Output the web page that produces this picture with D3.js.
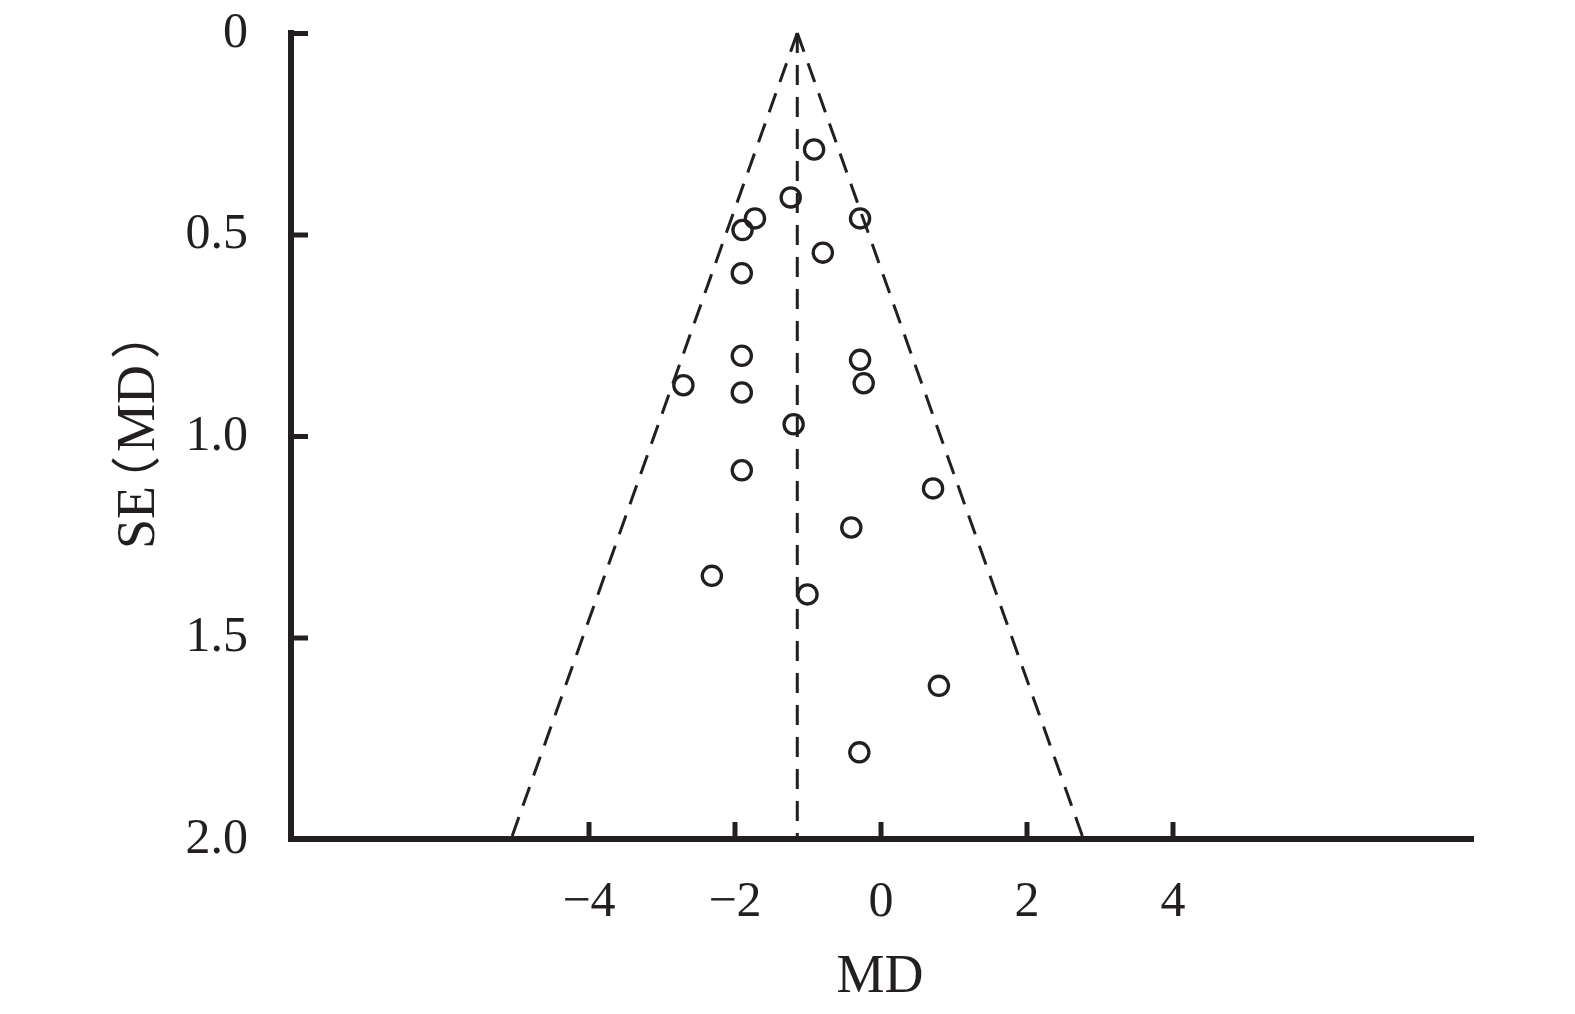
<!DOCTYPE html>
<html>
<head>
<meta charset="utf-8">
<script src="https://cdn.jsdelivr.net/npm/d3@7"></script>
<style>
  html, body { margin: 0; padding: 0; background: #ffffff; }
  svg { display: block; }
</style>
</head>
<body>
<svg id="chart" width="1575" height="1014"></svg>
<script>
// ---- data ----
const studyMD = [-0.91, -1.23, -1.72, -1.89, -0.28, -0.79, -1.90, -1.90, -2.70, -1.90,
                 -0.28, -0.23, -1.19, -1.90, 0.72, -0.40, -2.31, -1.00, 0.80, -0.29];
const studySE = [0.289, 0.408, 0.460, 0.489, 0.460, 0.545, 0.596, 0.801, 0.874, 0.892,
                 0.811, 0.869, 0.971, 1.085, 1.130, 1.227, 1.347, 1.393, 1.620, 1.785];
const pooledMD = -1.14;
const zCrit = 1.96;
const xTickValues = [-4, -2, 0, 2, 4];
const xTickLabels = ["\u22124", "\u22122", "0", "2", "4"];
const yTickValues = [0, 0.5, 1.0, 1.5, 2.0];
const yTickLabels = ["0", "0.5", "1.0", "1.5", "2.0"];
const xTitle = "MD";
const yTitleParts = ["SE", "\uFF08", "MD", "\uFF09"];

// ---- layout ----
const ink = "#231f20";
const serif = "'Liberation Serif', 'Times New Roman', 'Noto Sans CJK SC', serif";
const axisLeftX = 291, axisRightX = 1474;
const svg = d3.select("#chart");

const x = d3.scaleLinear().domain([-4, 4]).range([588.5, 1172.5]);
const y = d3.scaleLinear().domain([0, 2]).range([33, 839]);

// funnel lines
const seMax = 2;
const funnel = [
  [[pooledMD, 0], [pooledMD - zCrit * seMax, seMax]],
  [[pooledMD, 0], [pooledMD + zCrit * seMax, seMax]],
  [[pooledMD, 0], [pooledMD, seMax]]
];
const line = d3.line().x(d => x(d[0])).y(d => y(d[1]));
svg.append("g").selectAll("path").data(funnel).join("path")
  .attr("d", line)
  .attr("fill", "none")
  .attr("stroke", ink)
  .attr("stroke-width", 3)
  .attr("stroke-dasharray", "20,12");

// points
svg.append("g").selectAll("circle").data(studyMD.map((m, i) => [m, studySE[i]])).join("circle")
  .attr("cx", d => x(d[0]))
  .attr("cy", d => y(d[1]))
  .attr("r", 9.6)
  .attr("fill", "none")
  .attr("stroke", ink)
  .attr("stroke-width", 3.3);

// y axis
const yAxis = d3.axisLeft(y)
  .tickValues(yTickValues)
  .tickSize(-17)
  .tickSizeOuter(0)
  .tickPadding(43)
  .tickFormat((d, i) => yTickLabels[i]);
const gy = svg.append("g").attr("transform", `translate(${axisLeftX},0)`).call(yAxis);
gy.select(".domain").remove();
gy.selectAll(".tick line").attr("stroke", ink).attr("stroke-width", 5);
gy.selectAll(".tick text")
  .attr("font-family", serif).attr("font-size", 50).attr("fill", ink)
  .attr("dy", 0).attr("y", 13);

// x axis
const xAxis = d3.axisBottom(x)
  .tickValues(xTickValues)
  .tickSize(-17)
  .tickSizeOuter(0)
  .tickFormat((d, i) => xTickLabels[i]);
const gx = svg.append("g").attr("transform", `translate(0,${y(2)})`).call(xAxis);
gx.select(".domain").remove();
gx.selectAll(".tick line").attr("stroke", ink).attr("stroke-width", 5);
gx.selectAll(".tick text")
  .attr("font-family", serif).attr("font-size", 50).attr("fill", ink)
  .attr("dy", 0).attr("y", 77);

// axis lines
svg.append("line")
  .attr("x1", axisLeftX).attr("x2", axisLeftX)
  .attr("y1", y(0) - 3).attr("y2", y(2) + 3)
  .attr("stroke", ink).attr("stroke-width", 6);
svg.append("line")
  .attr("x1", axisLeftX - 3).attr("x2", axisRightX)
  .attr("y1", y(2)).attr("y2", y(2))
  .attr("stroke", ink).attr("stroke-width", 6);

// x title
svg.append("text")
  .attr("x", 880).attr("y", 992)
  .attr("text-anchor", "middle")
  .attr("font-family", serif).attr("font-size", 54).attr("fill", ink)
  .text(xTitle);

// y title
const yt = svg.append("text")
  .attr("transform", "translate(154,429) rotate(-90)")
  .attr("text-anchor", "middle")
  .attr("font-family", serif).attr("font-size", 54).attr("fill", ink);
const dxs = [0, -20, 4, 6];
yTitleParts.forEach((t, i) => {
  yt.append("tspan").attr("dx", dxs[i])
    .attr("font-size", (t === "\uFF08" || t === "\uFF09") ? 50 : 54)
    .text(t);
});
</script>
</body>
</html>
